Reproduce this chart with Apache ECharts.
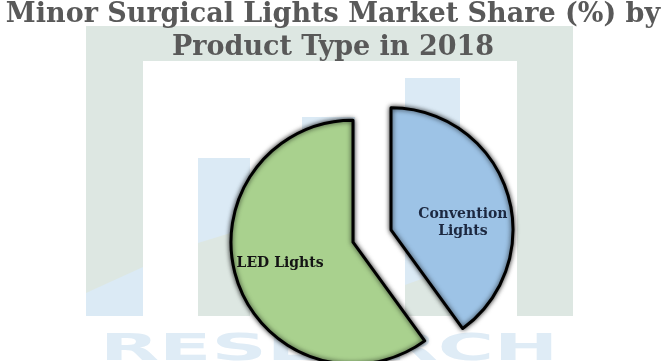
<!DOCTYPE html>
<html>
<head>
<meta charset="utf-8">
<script src="https://cdn.jsdelivr.net/npm/echarts@6/dist/echarts.min.js"></script>
<style>
html,body{margin:0;padding:0;background:#ffffff;}
#chart{width:666px;height:361px;}
</style>
</head>
<body>
<div id="chart"></div>
<script>
const titleText = 'Minor Surgical Lights Market Share (%) by\nProduct Type in 2018';
const categories = ['Convention Lights', 'LED Lights'];
const shares = [40, 60];
const labelTexts = ['Convention\nLights', 'LED Lights'];
const sliceColors = ['#9dc3e6', '#a9d18e'];
const labelColors = ['#1c2840', '#141414'];
const labelShift = [[11, 13], [-12, 1]];

const wmGray = '#dde7e2';
const wmBlue = '#dbeaf5';

const chart = echarts.init(document.getElementById('chart'), null, {renderer: 'canvas'});

const watermark = [
  {type: 'rect', shape: {x: 86, y: 26, width: 487, height: 290}, style: {fill: wmGray}, z: -10},
  {type: 'rect', shape: {x: 143, y: 61, width: 374, height: 255}, style: {fill: '#ffffff'}, z: -9},
  {type: 'polygon', shape: {points: [[86, 293], [143, 267], [143, 316], [86, 316]]}, style: {fill: wmBlue}, z: -8},
  {type: 'rect', shape: {x: 198, y: 158, width: 52, height: 158}, style: {fill: wmBlue}, z: -8},
  {type: 'polygon', shape: {points: [[198, 243], [250, 227], [250, 316], [198, 316]]}, style: {fill: wmGray}, z: -7},
  {type: 'rect', shape: {x: 302, y: 117, width: 53, height: 199}, style: {fill: wmBlue}, z: -8},
  {type: 'polygon', shape: {points: [[302, 210], [355, 193], [355, 316], [302, 316]]}, style: {fill: wmGray}, z: -7},
  {type: 'rect', shape: {x: 405, y: 78, width: 55, height: 238}, style: {fill: wmBlue}, z: -8},
  {type: 'polygon', shape: {points: [[405, 285], [460, 265], [460, 316], [405, 316]]}, style: {fill: wmGray}, z: -7},
  {type: 'text', left: 100, top: 331, scaleX: 2.02, z: -8,
    style: {text: 'RESEARCH', font: 'bold 38px "DejaVu Sans"', fill: '#dfecf6'}}
];

chart.setOption({
  animation: false,
  backgroundColor: '#ffffff',
  title: {
    text: titleText,
    left: 'center',
    top: -7,
    textStyle: {
      fontFamily: '"DejaVu Serif"',
      fontWeight: 'bold',
      fontSize: 27,
      lineHeight: 33,
      color: '#595959'
    }
  },
  graphic: watermark,
  series: [{
    type: 'pie',
    center: [372, 236],
    radius: 122,
    startAngle: 90,
    clockwise: true,
    selectedMode: 'multiple',
    selectedOffset: 20,
    avoidLabelOverlap: false,
    emphasis: {disabled: true},
    itemStyle: {
      borderColor: '#000000',
      borderWidth: 3,
      shadowBlur: 5,
      shadowColor: 'rgba(0,0,0,0.75)'
    },
    label: {
      show: true,
      position: 'inside',
      fontFamily: '"DejaVu Serif"',
      fontWeight: 'bold',
      fontSize: 14,
      lineHeight: 17,
      align: 'center'
    },
    labelLine: {show: false},
    labelLayout: function (params) {
      const s = labelShift[params.dataIndex];
      return {dx: s[0], dy: s[1]};
    },
    data: categories.map((c, i) => ({
      name: c,
      value: shares[i],
      selected: true,
      itemStyle: {color: sliceColors[i]},
      label: {
        formatter: labelTexts[i],
        color: labelColors[i]
      }
    }))
  }]
});
</script>
</body>
</html>
